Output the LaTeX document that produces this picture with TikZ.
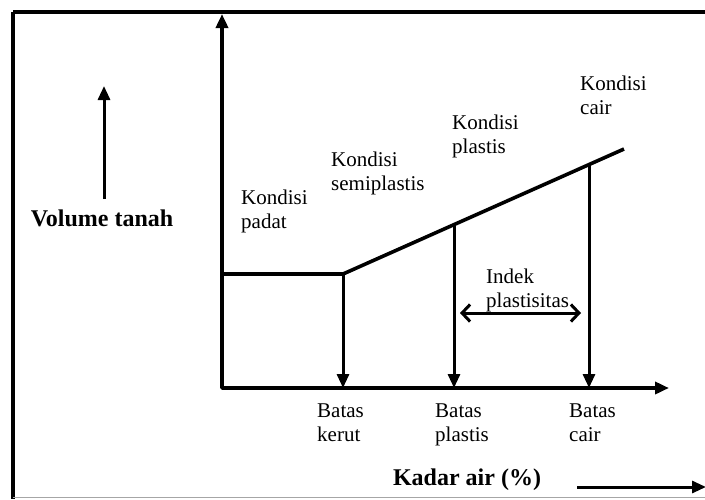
\documentclass[tikz,border=0pt]{standalone}
\usepackage{fontspec}
\setmainfont{Liberation Serif}
\usetikzlibrary{arrows.meta}
\begin{document}
\begin{tikzpicture}[x=1pt,y=-1pt,
  lbl/.style={anchor=north west,inner sep=0pt,align=left,font=\fontsize{21}{24}\selectfont},
  big/.style={inner sep=0pt,font=\bfseries\fontsize{24}{28}\selectfont},
  axis/.style={line width=3.6pt,line join=round},
  arr/.style={line width=3pt,-{Triangle[length=14pt,width=12pt]}},
  dbl/.style={line width=3pt,{Straight Barb[length=8pt,width=17pt,line width=3pt]}-{Straight Barb[length=8pt,width=17pt,line width=3pt]}}
]
\useasboundingbox (0,0) rectangle (705,499);
\fill[white] (0,0) rectangle (705,499);
% frame
\draw[line width=3.4pt] (13,12) -- (712,12);
\draw[line width=3.4pt] (13,12) -- (13,499);
\draw[line width=1.2pt,black!35] (13,497.5) -- (705,497.5);
% coordinates
\coordinate (O) at (222,388);
\coordinate (Ytop) at (222,14);
\coordinate (Xend) at (669,388);
\coordinate (Y0) at (222,274);
\coordinate (P1) at (343,274);
\coordinate (Pend) at (624,149);
\coordinate (P2) at (454,224.6);
\coordinate (P3) at (589,164.5);
\coordinate (B1) at (343,388);
\coordinate (B2) at (454,388);
\coordinate (B3) at (589,388);
\coordinate (L1) at (104,199);
\coordinate (L2) at (104,86);
\coordinate (R1) at (577,487);
\coordinate (R2) at (706,487);
\coordinate (D1) at (460,313);
\coordinate (D2) at (581,313);
% axes
\draw[axis,{Triangle[length=14pt,width=12pt]}-{Triangle[length=14pt,width=12pt]}] (Ytop) -- (O) -- (Xend);
% curve
\draw[axis] (Y0) -- (P1) -- (Pend);
% limit arrows
\draw[arr] (P1) -- (B1);
\draw[arr] (P2) -- (B2);
\draw[arr] (P3) -- (B3);
% side arrows
\draw[arr] (L1) -- (L2);
\draw[arr] (R1) -- (R2);
% labels
\node[big] (vol) at (102,218) {Volume tanah};
\node[big] (kadar) at (467,480) {Kadar air (\%)};
\node[lbl] (padat) at (241,190) {Kondisi\\padat};
\node[lbl] (semi) at (331,152) {Kondisi\\semiplastis};
\node[lbl] (plas) at (452,115) {Kondisi\\plastis};
\node[lbl] (cair) at (580,76) {Kondisi\\cair};
\node[lbl] (indek) at (486,269) {Indek\\plastisitas};
\node[lbl] (bk) at (317,404) {Batas\\kerut};
\node[lbl] (bp) at (435,404) {Batas\\plastis};
\node[lbl] (bc) at (569,404) {Batas\\cair};
\draw[dbl] (D1) -- (D2);
\end{tikzpicture}
\end{document}
